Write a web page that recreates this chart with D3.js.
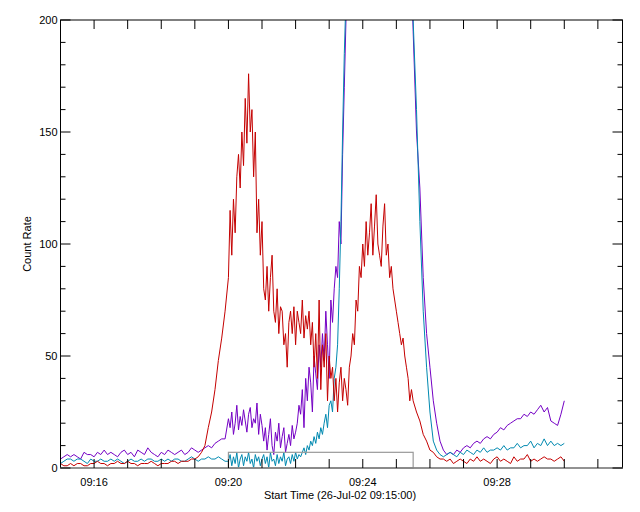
<!DOCTYPE html>
<html><head><meta charset="utf-8">
<script src="https://cdn.jsdelivr.net/npm/d3@7"></script>
<style>body{margin:0;background:#fff}text{font-family:"Liberation Sans",Arial,sans-serif;font-size:11px}</style>
</head><body><svg id="c" width="640" height="512"></svg>
<script>
// time in seconds after 09:15:00
const preStep = 6, midStep = 3, postStep = 6;
const midStart = 300, postStart = 630;
const yTicks = [0, 50, 100, 150, 200];
const xTickLabels = ["09:16", "09:20", "09:24", "09:28"];
const xTickSecs = [60, 300, 540, 780];

const redPre = [2,1,1,2,1,2,2,1,1,2,2,3,2,2,1,2,2,3,2,2,3,2,2,1,2,2,2,3,2,1,2,2,2,3,3,2,3,3,3,4,4,5,7,10,18,25,35,48,58,70];
const redMid = [85,115,95,120,105,130,140,125,150,135,165,145,176,150,160,130,150,105,120,95,110,80,75,90,70,85,95,70,65,80,60,72,70,55,60,45,65,70,60,72,55,70,65,60,75,58,68,62,70,55,65,45,60,40,75,35,55,45,60,30,50,40,45,30,40,25,38,45,30,40,35,28,45,50,60,55,75,70,90,85,100,90,110,95,105,118,95,108,122,100,95,90,108,118,95,100,85,90,80,75,70,65,60,55,58,50,45,40,30,35];
const redPost = [30,25,21,15,12,8,7,5,4,4,3,4,2,3,4,3,2,4,3,5,3,4,3,2,4,5,3,4,3,2,5,3,4,4,6,3,4,3,4,5,4,4,3,4,5,3];

const cyanPre = [2,3,4,4,3,4,4,3,2,4,3,3,4,3,3,4,3,4,3,2,3,4,3,3,4,3,4,4,3,3,4,3,4,3,4,4,3,3,4,5,4,3,4,4,5,4,4,5,4,3];
const cyanMid = [3,6,1,5,2,7,0,4,6,1,5,3,7,2,4,0,6,3,5,1,4,6,2,5,0,7,3,4,1,6,2,5,3,7,1,4,5,2,6,3,7,4,6,5,7,9,6,10,8,12,10,14,11,16,13,18,15,20,24,18,28,30,25,40,45,55,80,110,150,185,210,230,260,290,320,340,360,380,400,410,420,430,440,445,450,450,445,440,435,430,420,410,400,390,380,370,360,350,340,330,320,310,300,290,280,270,260,250,240,225];
const cyanPost = [200,160,110,70,45,25,12,8,6,5,6,7,6,5,7,6,8,7,6,8,7,9,7,8,8,9,8,10,8,9,9,11,9,10,10,12,9,11,10,13,10,12,10,11,10,11];

const purplePre = [4,5,6,5,6,5,4,7,6,6,5,7,6,8,6,7,6,5,7,8,6,7,5,8,7,6,9,7,6,5,7,6,8,7,6,7,8,6,7,9,8,7,8,9,10,9,11,12,13,13];
const purpleMid = [22,18,25,15,20,28,17,23,19,26,21,16,24,27,18,22,20,29,15,24,19,12,18,8,15,22,10,6,16,12,20,9,14,18,7,11,15,10,19,13,16,20,28,24,35,18,40,30,45,38,25,50,42,35,55,45,60,48,70,55,40,75,65,80,90,85,110,100,140,170,200,230,260,290,320,340,360,380,400,410,420,430,440,445,450,450,445,440,435,430,420,410,400,390,380,370,360,350,340,330,320,310,300,290,280,270,260,250,240,220];
const purplePost = [195,150,125,85,60,45,30,20,12,8,6,7,6,8,7,9,10,9,11,12,11,13,14,13,15,16,18,17,19,20,21,22,22,24,23,25,24,26,28,25,27,21,20,19,24,30];

function build(pre, mid, post){
  const out = [];
  pre.forEach((v,i)=>out.push([i*preStep, v]));
  mid.forEach((v,i)=>out.push([midStart+i*midStep, v]));
  post.forEach((v,i)=>out.push([postStart+i*postStep, v]));
  return out;
}
const series = [
  {name:"purple", color:"#7400c4", data: build(purplePre, purpleMid, purplePost)},
  {name:"cyan", color:"#0089b0", data: build(cyanPre, cyanMid, cyanPost)},
  {name:"red", color:"#c40000", data: build(redPre, redMid, redPost)}
];

const L=60.5, R=622.5, T=20, B=468;
const x = d3.scaleLinear().domain([0, 1004]).range([L, R]);
const y = d3.scaleLinear().domain([0, 200]).range([B, T]);
const svg = d3.select("#c");

svg.append("clipPath").attr("id","clip").append("rect").attr("x",L).attr("y",T).attr("width",R-L).attr("height",B-T);
const g = svg.append("g").attr("clip-path","url(#clip)");
const line = d3.line().x(d=>x(d[0])).y(d=>y(d[1]));
series.forEach(s=>g.append("path").datum(s.data).attr("d",line).attr("fill","none").attr("stroke",s.color).attr("stroke-width",1));

svg.append("rect").attr("x",x(300)).attr("y",y(7)).attr("width",x(630)-x(300)).attr("height",y(0)-y(7)).attr("fill","none").attr("stroke","#999").attr("stroke-width",1.2);

svg.append("rect").attr("x",L).attr("y",T).attr("width",R-L).attr("height",B-T).attr("fill","none").attr("stroke","#000");
svg.append("line").attr("x1",L).attr("x2",R).attr("y1",B).attr("y2",B).attr("stroke","#999").attr("stroke-width",1.5);

const minuteTicks = d3.range(60, 1004, 60);
const ax = svg.append("g").attr("stroke","#000");
minuteTicks.forEach(t=>{
  ax.append("line").attr("x1",x(t)).attr("x2",x(t)).attr("y1",B).attr("y2",B-9);
  ax.append("line").attr("x1",x(t)).attr("x2",x(t)).attr("y1",T).attr("y2",T+9);
});
d3.range(0,201,10).forEach(v=>{
  const len = v%50===0 ? 10 : 5;
  ax.append("line").attr("x1",L).attr("x2",L+len).attr("y1",y(v)).attr("y2",y(v));
  ax.append("line").attr("x1",R).attr("x2",R-len).attr("y1",y(v)).attr("y2",y(v));
});
yTicks.forEach(v=>svg.append("text").attr("x",L-3).attr("y",y(v)+4).attr("text-anchor","end").text(v));
xTickLabels.forEach((lab,i)=>svg.append("text").attr("x",x(xTickSecs[i])).attr("y",B+18).attr("text-anchor","middle").text(lab));
svg.append("text").attr("x",340).attr("y",499).attr("text-anchor","middle").text("Start Time (26-Jul-02 09:15:00)");
svg.append("text").attr("transform","translate(31,244) rotate(-90)").attr("text-anchor","middle").text("Count Rate");
</script></body></html>
